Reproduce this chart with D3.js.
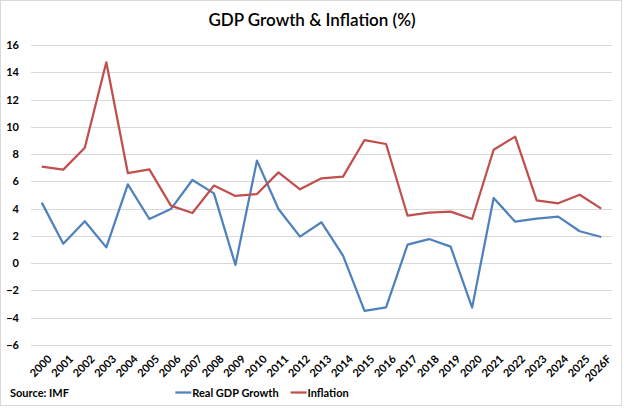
<!DOCTYPE html>
<html>
<head>
<meta charset="utf-8">
<script src="https://cdn.jsdelivr.net/npm/d3@7"></script>
<style>
  body { margin: 0; background: #fff; }
  text { font-family: Lato, "Open Sans", sans-serif; }
</style>
</head>
<body>
<svg width="624" height="408"></svg>
<script>
// Data
const years = ["2000","2001","2002","2003","2004","2005","2006","2007","2008","2009",
  "2010","2011","2012","2013","2014","2015","2016","2017","2018","2019",
  "2020","2021","2022","2023","2024","2025","2026F"];
const gdpGrowth = [4.44,1.43,3.07,1.16,5.78,3.24,3.97,6.1,5.12,-0.13,
  7.52,3.97,1.95,3.0,0.55,-3.5,-3.24,1.36,1.77,1.21,
  -3.26,4.78,3.04,3.26,3.41,2.34,1.92];
const inflation = [7.08,6.86,8.47,14.73,6.61,6.88,4.22,3.68,5.69,4.93,
  5.07,6.66,5.42,6.22,6.35,9.03,8.74,3.48,3.70,3.78,
  3.24,8.32,9.28,4.61,4.39,5.02,4.0];
const yTicks = [-6,-4,-2,0,2,4,6,8,10,12,14,16];

const svg = d3.select("svg"),
  width = +svg.attr("width"),
  height = +svg.attr("height");

// chart border
svg.append("rect")
  .attr("x", 0.5).attr("y", 0.5)
  .attr("width", 621).attr("height", 405)
  .attr("fill", "#fff")
  .attr("stroke", "#d9d9d9");

const margin = {left: 31, right: 12, top: 45, bottom: 63};

const x = d3.scaleBand()
  .domain(years)
  .range([margin.left, width - margin.right]);

const y = d3.scaleLinear()
  .domain([-6, 16])
  .range([height - margin.bottom, margin.top]);

// Title
svg.append("text")
  .attr("x", 312)
  .attr("y", 26)
  .attr("text-anchor", "middle")
  .style("font-size", "17px")
  .style("font-weight", "600")
  .text("GDP Growth & Inflation (%)");

// gridlines
svg.append("g")
  .selectAll("line")
  .data(yTicks)
  .join("line")
  .attr("x1", margin.left)
  .attr("x2", width - margin.right)
  .attr("y1", d => Math.round(y(d)) + 0.5)
  .attr("y2", d => Math.round(y(d)) + 0.5)
  .attr("stroke", "#d9d9d9")
  .attr("stroke-width", 1);

// y axis labels
const yAxis = svg.append("g")
  .attr("transform", `translate(${margin.left - 12},0)`)
  .call(d3.axisLeft(y).tickValues(yTicks).tickSize(0).tickPadding(0));
yAxis.select(".domain").remove();
yAxis.selectAll("text")
  .style("font-family", "Lato, 'Open Sans', sans-serif")
  .style("font-size", "11px")
  .style("font-weight", "bold")
  .attr("fill", "#000");

// x axis labels
const xAxis = svg.append("g")
  .attr("transform", `translate(0,${height - margin.bottom})`)
  .call(d3.axisBottom(x).tickSize(0).tickPadding(0));
xAxis.select(".domain").remove();
xAxis.selectAll("text")
  .style("font-family", "Lato, 'Open Sans', sans-serif")
  .style("font-size", "11px")
  .style("font-weight", "bold")
  .attr("fill", "#000")
  .attr("text-anchor", "end")
  .attr("dy", "0.35em")
  .attr("transform", "translate(8,12) rotate(-45)");

// Lines
const line = d3.line()
  .x((d, i) => x(years[i]) + x.bandwidth() / 2)
  .y(d => y(d));

svg.append("path")
  .datum(gdpGrowth)
  .attr("fill", "none")
  .attr("stroke", "#4F81BD")
  .attr("stroke-width", 2.25)
  .attr("stroke-linejoin", "round")
  .attr("d", line);

svg.append("path")
  .datum(inflation)
  .attr("fill", "none")
  .attr("stroke", "#C0504D")
  .attr("stroke-width", 2.25)
  .attr("stroke-linejoin", "round")
  .attr("d", line);

// Source
svg.append("text")
  .attr("x", 10)
  .attr("y", 397)
  .style("font-size", "11px")
  .style("font-weight", "bold")
  .text("Source: IMF");

// Legend - laid out by measured text width, centred around x=262
const legendItems = [
  {name: "Real GDP Growth", color: "#4F81BD"},
  {name: "Inflation", color: "#C0504D"}
];
const legend = svg.append("g").attr("class", "legend");
const items = legend.selectAll("g")
  .data(legendItems)
  .join("g");
items.append("line")
  .attr("x1", 0)
  .attr("x2", 16)
  .attr("y1", 392.5)
  .attr("y2", 392.5)
  .attr("stroke", d => d.color)
  .attr("stroke-width", 2.25);
items.append("text")
  .attr("x", 17)
  .attr("y", 397)
  .style("font-size", "11px")
  .style("font-weight", "bold")
  .text(d => d.name);

let offset = 0;
const widths = [];
items.each(function () {
  widths.push(17 + this.querySelector("text").getComputedTextLength());
});
const total = d3.sum(widths) + 12 * (widths.length - 1);
let start = 262 - total / 2;
items.attr("transform", (d, i) => {
  const t = `translate(${start + offset},0)`;
  offset += widths[i] + 12;
  return t;
});
</script>
</body>
</html>
